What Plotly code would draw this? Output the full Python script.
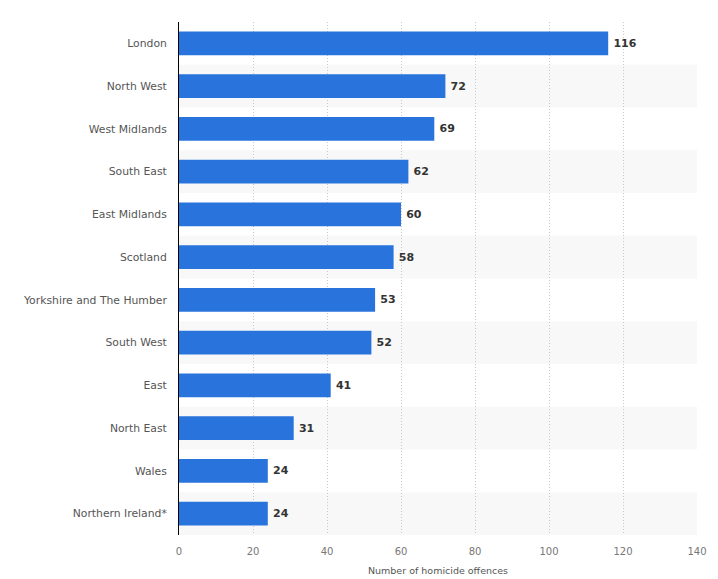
import plotly.graph_objects as go

regions = [
    "London", "North West", "West Midlands", "South East", "East Midlands",
    "Scotland", "Yorkshire and The Humber", "South West", "East",
    "North East", "Wales", "Northern Ireland*",
]
offences = [116, 72, 69, 62, 60, 58, 53, 52, 41, 31, 24, 24]
x_ticks = [0, 20, 40, 60, 80, 100, 120, 140]

BAR = "#2874dc"
FONT = "DejaVu Sans"

fig = go.Figure()
fig.add_trace(go.Bar(
    y=regions, x=offences, orientation="h",
    marker=dict(color=BAR, line=dict(width=0)),
    text=[str(v) for v in offences], textposition="outside",
    textfont=dict(family=FONT, size=11, color="#333333"),
    texttemplate="\u2009<b>%{text}</b>",
    cliponaxis=False,
))

# alternating row bands
shapes = []
for i, name in enumerate(regions):
    if i % 2 == 1:
        shapes.append(dict(
            type="rect", xref="paper", yref="y",
            x0=0, x1=1.0, y0=i - 0.5, y1=i + 0.5,
            fillcolor="#f8f8f8", line=dict(width=0), layer="below",
        ))

# page body adds an 8px offset, so the figure is sized to the visible area
fig.update_layout(
    width=710, height=571,
    margin=dict(l=171, r=21, t=14, b=44, autoexpand=False),
    paper_bgcolor="white", plot_bgcolor="rgba(0,0,0,0)",
    showlegend=False,
    bargap=0.44,
    shapes=shapes,
    font=dict(family=FONT, size=11, color="#555555"),
    xaxis=dict(
        range=[0, 140], tickvals=x_ticks, automargin=False,
        showgrid=True, gridcolor="#c8c8c8", griddash="1px,2px", gridwidth=1,
        zeroline=False, showline=False,
        tickfont=dict(family=FONT, size=10, color="#777777"),
        ticklabelstandoff=9,
        title=dict(text="Number of homicide offences",
                   font=dict(family=FONT, size=9.5, color="#555555"), standoff=11),
        ticks="", ticklen=0,
    ),
    yaxis=dict(
        categoryorder="array", categoryarray=regions, autorange="reversed",
        automargin=False,
        showline=True, linecolor="#000000", linewidth=1,
        ticks="", ticklabelstandoff=9,
        tickfont=dict(family=FONT, size=10.8, color="#555555"),
        showgrid=False,
    ),
)

fig.write_html("out.html")
